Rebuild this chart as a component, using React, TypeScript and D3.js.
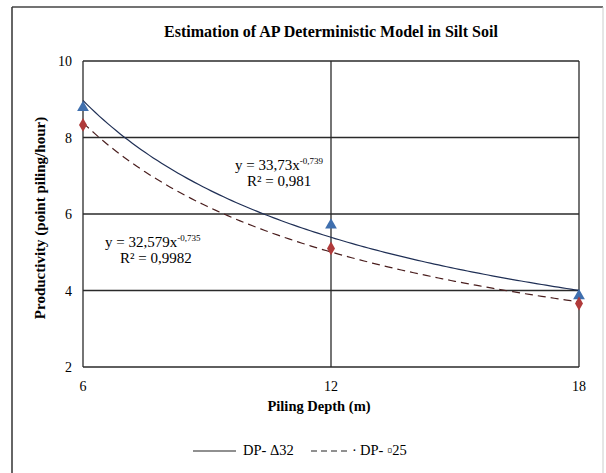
import React from 'react';
import * as d3 from 'd3';

// data
const depths = [6, 12, 18];
const dp32 = [8.78, 5.71, 3.86];
const dp25 = [8.33, 5.1, 3.66];
const yTicks = [2, 4, 6, 8, 10];
const xTicks = [6, 12, 18];
const seriesNames = ['DP- \u039432', 'DP- \u25AB25'];
const eqLabels = [
  ['y = 33,73x', '-0,739', 'R\u00B2 = 0,981'],
  ['y = 32,579x', '-0,735', 'R\u00B2 = 0,9982'],
];

const W = 606;
const H = 473;
const M = { left: 83, right: 579, top: 61, bottom: 367 };
const serif = '"Liberation Serif", "Times New Roman", serif';

// power trendline y = a*x^b, least squares in log-log space (like Excel)
function powerFit(xs: number[], ys: number[]) {
  const lx = xs.map(Math.log);
  const ly = ys.map(Math.log);
  const mx = d3.mean(lx) as number;
  const my = d3.mean(ly) as number;
  const sxy = d3.sum(lx, (v, i) => (v - mx) * (ly[i] - my));
  const sxx = d3.sum(lx, v => (v - mx) * (v - mx));
  const b = sxy / sxx;
  const a = Math.exp(my - b * mx);
  return (v: number) => a * Math.pow(v, b);
}

export default function App() {
  const x = d3.scaleLinear().domain([6, 18]).range([M.left, M.right]);
  const y = d3.scaleLinear().domain([2, 10]).range([M.bottom, M.top]);

  const trendPath = (ys: number[]) => {
    const f = powerFit(depths, ys);
    const xs = d3.range(6, 18.001, 0.1);
    return d3.line<number>().x(d => x(d)).y(d => y(f(d)))(xs) as string;
  };

  const tri = d3.symbol().type(d3.symbolTriangle).size(60)() as string;
  const dia = d3.symbol().type(d3.symbolDiamond).size(55)() as string;

  return (
    <svg width={W} height={H} style={{ position: 'absolute', left: 0, top: 0 }}>
      <rect x={0} y={0} width={W} height={H} fill="#fff" />
      {/* outer frame */}
      <line x1={12} y1={7} x2={603} y2={7} stroke="#444" strokeWidth={1.5} />
      <line x1={12} y1={7} x2={12} y2={H} stroke="#333" strokeWidth={1.5} />
      <line x1={603} y1={7} x2={603} y2={H} stroke="#ccc" strokeWidth={1} />

      <text x={331} y={37} textAnchor="middle" fontFamily={serif} fontWeight="bold" fontSize={16}>
        Estimation of AP Deterministic Model in Silt Soil
      </text>

      {/* grid */}
      {yTicks.map(t => (
        <line key={'gy' + t} x1={M.left} x2={M.right} y1={y(t)} y2={y(t)} stroke="#2a2a2a" strokeWidth={1.3} />
      ))}
      {xTicks.map(t => (
        <line key={'gx' + t} x1={x(t)} x2={x(t)} y1={M.top} y2={M.bottom} stroke="#2a2a2a" strokeWidth={1.3} />
      ))}

      {yTicks.map(t => (
        <text key={'ty' + t} x={72} y={y(t) + 5} textAnchor="end" fontFamily={serif} fontSize={14}>{t}</text>
      ))}
      {xTicks.map(t => (
        <text key={'tx' + t} x={x(t)} y={391} textAnchor="middle" fontFamily={serif} fontSize={14}>{t}</text>
      ))}

      {/* trend lines */}
      <path d={trendPath(dp32)} fill="none" stroke="#1f2f55" strokeWidth={1.2} />
      <path d={trendPath(dp25)} fill="none" stroke="#4a1e1e" strokeWidth={1.2} strokeDasharray="8,5" />

      {depths.map((d, i) => (
        <path key={'a' + i} d={tri} transform={`translate(${x(d)},${y(dp32[i])})`} fill="#3f6fae" />
      ))}
      {depths.map((d, i) => (
        <path key={'b' + i} d={dia} transform={`translate(${x(d)},${y(dp25[i])})`} fill="#b03a3a" />
      ))}

      {/* equations */}
      <text x={235} y={170} fontFamily={serif} fontSize={15}>
        {eqLabels[0][0]}<tspan fontSize={9} dy={-6}>{eqLabels[0][1]}</tspan>
      </text>
      <text x={247} y={186} fontFamily={serif} fontSize={15}>{eqLabels[0][2]}</text>
      <text x={105} y={247} fontFamily={serif} fontSize={15}>
        {eqLabels[1][0]}<tspan fontSize={9} dy={-6}>{eqLabels[1][1]}</tspan>
      </text>
      <text x={120} y={263} fontFamily={serif} fontSize={15}>{eqLabels[1][2]}</text>

      {/* axis titles */}
      <text x={319} y={411} textAnchor="middle" fontFamily={serif} fontWeight="bold" fontSize={14.5}>Piling Depth (m)</text>
      <text transform="translate(45,218) rotate(-90)" textAnchor="middle" fontFamily={serif} fontWeight="bold" fontSize={15}>
        Productivity (point piling/hour)
      </text>

      {/* legend */}
      <line x1={193} x2={236} y1={451} y2={451} stroke="#222" strokeWidth={1.2} />
      <text x={243} y={455} fontFamily={serif} fontSize={14.5}>{seriesNames[0]}</text>
      <line x1={311} x2={350} y1={451} y2={451} stroke="#222" strokeWidth={1.2} strokeDasharray="6,4" />
      <text x={352} y={455} fontFamily={serif} fontSize={14.5}>·</text>
      <text x={360} y={455} fontFamily={serif} fontSize={14.5}>{seriesNames[1]}</text>
    </svg>
  );
}
